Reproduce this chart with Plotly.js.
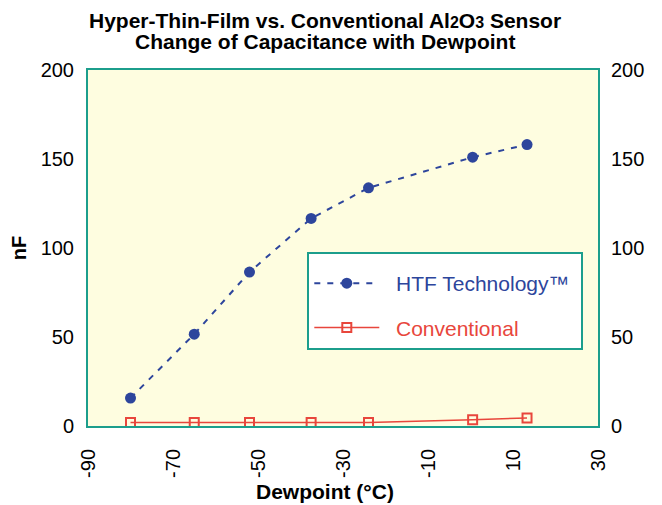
<!DOCTYPE html>
<html>
<head>
<meta charset="utf-8">
<script src="https://cdn.plot.ly/plotly-3.0.1.min.js"></script>
<style>html,body{margin:0;padding:0;background:#fff;}</style>
</head>
<body>
<div id="chart" style="width:662px;height:505px;"></div>
<script>
const dewpoint = [-80, -65, -52, -37.5, -24, 0.5, 13.3];
const htfValues = [15.7, 51.6, 86.5, 116.6, 133.8, 151, 158.1];
const conventionalValues = [2, 2, 2, 2, 2, 3.5, 4.5];
const xTicks = [-90, -70, -50, -30, -10, 10, 30];
const yTicks = [0, 50, 100, 150, 200];
const titleLine1 = 'Hyper-Thin-Film vs. Conventional Al<span style="font-size:16px">2</span>O<span style="font-size:16px">3</span> Sensor';
const titleLine2 = 'Change of Capacitance with Dewpoint';
const xTitle = 'Dewpoint (°C)';
const yTitle = 'nF';
const seriesNames = ['HTF Technology™', 'Conventional'];

const blue = '#2d459c';
const red = '#e8463c';
const teal = '#1c9e8c';

const traces = [
  {
    x: dewpoint, y: htfValues, type: 'scatter', mode: 'lines+markers',
    name: '<span style="color:' + blue + '">&nbsp;&nbsp;' + seriesNames[0] + '&nbsp;</span>',
    line: {color: blue, width: 2, dash: '6px,7px'},
    marker: {color: blue, size: 11, symbol: 'circle'},
    legendgroup: 'a'
  },
  {
    x: dewpoint, y: conventionalValues, type: 'scatter', mode: 'lines+markers',
    name: '<span style="color:' + red + '">&nbsp;&nbsp;' + seriesNames[1] + '</span>',
    line: {color: red, width: 1.5},
    marker: {color: red, size: 9, symbol: 'square-open', line: {color: red, width: 2}},
    legendgroup: 'b'
  },
  {
    x: [dewpoint[0]], y: [htfValues[0]], yaxis: 'y2', type: 'scatter', mode: 'markers',
    marker: {opacity: 0}, showlegend: false, hoverinfo: 'skip'
  }
];

const layout = {
  width: 662, height: 505,
  margin: {l: 88, r: 64, t: 70, b: 79},
  paper_bgcolor: '#ffffff',
  plot_bgcolor: '#fefde0',
  font: {family: 'Liberation Sans, Arial, sans-serif', color: '#000'},
  annotations: [
    {text: '<b>' + titleLine1 + '</b>', xref: 'paper', yref: 'paper', x: 0.465, y: 1.14,
     xanchor: 'center', yanchor: 'middle', showarrow: false, font: {size: 21, color: '#000'}},
    {text: '<b>' + titleLine2 + '</b>', xref: 'paper', yref: 'paper', x: 0.465, y: 1.081,
     xanchor: 'center', yanchor: 'middle', showarrow: false, font: {size: 21, color: '#000'}},
    {text: '<b>' + xTitle + '</b>', xref: 'paper', yref: 'paper', x: 0.465, y: -0.185,
     xanchor: 'center', yanchor: 'middle', showarrow: false, font: {size: 21, color: '#000'}}
  ],
  xaxis: {
    range: [-90, 30], tickvals: xTicks, ticktext: xTicks.map(String),
    tickangle: -90, tickfont: {size: 20}, ticks: '', ticklabelstandoff: 13,
    showgrid: false, zeroline: false,
    showline: true, linecolor: teal, linewidth: 2, mirror: true
  },
  yaxis: {
    range: [0, 200], tickvals: yTicks, tickfont: {size: 20}, ticks: '', ticklabelstandoff: 8,
    showgrid: false, zeroline: false,
    showline: true, linecolor: teal, linewidth: 2, mirror: true,
    title: {text: '<b>' + yTitle + '</b>', font: {size: 20}, standoff: 9}
  },
  yaxis2: {
    range: [0, 200], tickvals: yTicks, tickfont: {size: 20}, ticks: '', ticklabelstandoff: 12,
    overlaying: 'y', side: 'right', showgrid: false, zeroline: false, showline: false
  },
  legend: {
    x: 0.43, y: 0.489, xanchor: 'left', yanchor: 'top',
    bgcolor: '#ffffff', bordercolor: teal, borderwidth: 2,
    title: {text: '&nbsp;', font: {size: 7}},
    font: {size: 21}, itemwidth: 65, traceorder: 'grouped', tracegroupgap: 14
  },
  showlegend: true
};

Plotly.newPlot('chart', traces, layout, {displayModeBar: false, staticPlot: true});
</script>
</body>
</html>
